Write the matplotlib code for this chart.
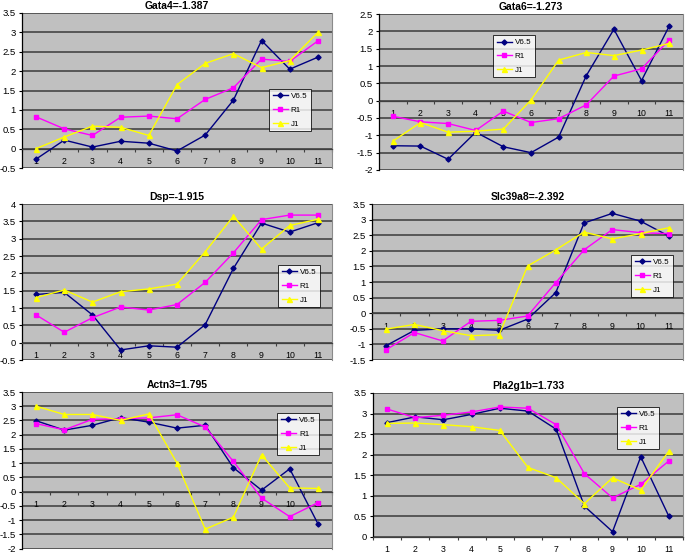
import matplotlib
matplotlib.use("Agg")
import matplotlib.pyplot as plt
import numpy as np

plt.rcParams["font.family"] = ["Liberation Sans", "DejaVu Sans"]

categories = list(range(1, 12))
series_names = ["V6.5", "R1", "J1"]

titles = ["Gata4=-1.387", "Gata6=-1.273", "Dsp=-1.915",
          "Slc39a8=-2.392", "Actn3=1.795", "Pla2g1b=1.733"]

gata4_v65 = [-0.27, 0.22, 0.04, 0.19, 0.14, -0.06, 0.35, 1.25, 2.79, 2.05, 2.36]
gata4_r1 = [0.82, 0.51, 0.34, 0.81, 0.84, 0.77, 1.27, 1.57, 2.31, 2.25, 2.78]
gata4_j1 = [0.0, 0.3, 0.58, 0.55, 0.34, 1.65, 2.2, 2.45, 2.09, 2.27, 3.0]

gata6_v65 = [-1.30, -1.31, -1.69, -0.91, -1.33, -1.50, -1.05, 0.72, 2.06, 0.58, 2.15]
gata6_r1 = [-0.45, -0.61, -0.66, -0.86, -0.30, -0.63, -0.52, -0.12, 0.71, 0.92, 1.75]
gata6_j1 = [-1.17, -0.63, -0.91, -0.88, -0.82, 0.02, 1.17, 1.39, 1.30, 1.46, 1.65]

dsp_v65 = [1.39, 1.45, 0.80, -0.21, -0.09, -0.13, 0.52, 2.14, 3.45, 3.19, 3.46]
dsp_r1 = [0.80, 0.30, 0.72, 1.03, 0.94, 1.10, 1.74, 2.59, 3.55, 3.68, 3.68]
dsp_j1 = [1.30, 1.52, 1.17, 1.47, 1.55, 1.69, 2.62, 3.65, 2.70, 3.38, 3.56]

slc_v65 = [-1.04, -0.55, -0.50, -0.50, -0.55, -0.19, 0.66, 2.89, 3.20, 2.95, 2.47]
slc_r1 = [-1.17, -0.62, -0.89, -0.26, -0.23, -0.09, 0.98, 2.03, 2.68, 2.58, 2.55]
slc_j1 = [-0.51, -0.36, -0.56, -0.72, -0.69, 1.51, 2.03, 2.60, 2.38, 2.55, 2.74]

actn3_v65 = [2.49, 2.16, 2.33, 2.60, 2.44, 2.23, 2.33, 0.84, 0.05, 0.80, -1.13]
actn3_r1 = [2.39, 2.17, 2.54, 2.56, 2.59, 2.70, 2.27, 1.06, -0.23, -0.88, -0.39]
actn3_j1 = [3.00, 2.71, 2.71, 2.50, 2.73, 1.00, -1.32, -0.90, 1.29, 0.13, 0.11]

pla_v65 = [2.78, 2.92, 2.85, 2.98, 3.13, 3.06, 2.62, 0.75, 0.13, 1.95, 0.50]
pla_r1 = [3.11, 2.90, 2.96, 3.04, 3.16, 3.13, 2.73, 1.54, 0.95, 1.28, 1.85]
pla_j1 = [2.76, 2.77, 2.73, 2.68, 2.59, 1.69, 1.44, 0.81, 1.44, 1.14, 2.09]

panel_data = [
    (gata4_v65, gata4_r1, gata4_j1),
    (gata6_v65, gata6_r1, gata6_j1),
    (dsp_v65, dsp_r1, dsp_j1),
    (slc_v65, slc_r1, slc_j1),
    (actn3_v65, actn3_r1, actn3_j1),
    (pla_v65, pla_r1, pla_j1),
]

y_ranges = [(-0.5, 3.5), (-2.0, 2.5), (-0.5, 4.0), (-1.5, 3.5), (-2.0, 3.5), (0.0, 3.5)]

W, H = 685, 553
# pixel boxes: x0, x1, ytop, ybottom
boxes = [
    (22, 332, 13, 168),
    (379, 683, 14, 170),
    (22, 332, 204, 360),
    (372, 683, 204, 360),
    (22, 332, 392, 548.5),
    (373, 683, 393, 537),
]
legend_pos = [(0.797, 0.51), (0.375, 0.865), (0.826, 0.609),
              (0.833, 0.673), (0.823, 0.866), (0.787, 0.903)]

colors = ["#000080", "#ff00ff", "#ffff00"]
markers = ["D", "s", "^"]
msizes = [2.6, 3.2, 3.6]

fig = plt.figure(figsize=(W / 100, H / 100), dpi=100)
fig.patch.set_facecolor("white")

for i in range(6):
    x0, x1, yt, yb = boxes[i]
    ax = fig.add_axes([x0 / W, 1 - yb / H, (x1 - x0) / W, (yb - yt) / H])
    ax.set_facecolor("#c0c0c0")
    ymin, ymax = y_ranges[i]
    ax.set_xlim(0.5, 11.5)
    ax.set_ylim(ymin, ymax)
    yt_vals = np.arange(ymin, ymax + 0.01, 0.5)
    ax.set_yticks(yt_vals)
    ax.set_yticklabels([("%g" % v) for v in yt_vals], fontsize=6.8)
    for v in yt_vals:
        ax.axhline(v, color="#3a3a3a", lw=1.1, zorder=1)
    # x axis at y = 0
    ax.spines["bottom"].set_position(("data", 0))
    ax.spines["bottom"].set_color("#404040")
    ax.spines["bottom"].set_linewidth(0.9)
    ax.spines["top"].set_visible(False)
    ax.spines["right"].set_color("#8a8a8a")
    ax.spines["right"].set_linewidth(0.8)
    ax.spines["left"].set_color("black")
    ax.spines["left"].set_linewidth(0.9)
    ax.set_xticks(np.arange(0.5, 11.6, 1.0))
    ax.set_xticklabels([])
    ax.tick_params(axis="x", which="major", direction="out", length=2.5, width=0.8, color="#404040")
    ax.set_xticks(categories, minor=True)
    ax.set_xticklabels([str(c) for c in categories], minor=True, fontsize=6.3)
    ax.tick_params(axis="x", which="minor", length=0, pad=6)
    ax.tick_params(axis="y", direction="out", length=2.5, width=0.8, pad=2)
    ax.set_title(titles[i], fontsize=7.5, fontweight="bold", pad=3)
    handles = []
    for s in range(3):
        h, = ax.plot(categories, panel_data[i][s], color=colors[s], marker=markers[s],
                     markersize=msizes[s], lw=1.0, zorder=3 + s, label=series_names[s])
        handles.append(h)
    leg = ax.legend(handles=handles, loc="upper left", bbox_to_anchor=legend_pos[i],
                    fontsize=5.8, frameon=True, fancybox=False, handlelength=1.9,
                    borderpad=0.45, labelspacing=0.75, handletextpad=0.35, borderaxespad=0)
    leg.get_frame().set_facecolor("white")
    leg.get_frame().set_edgecolor("black")
    leg.get_frame().set_linewidth(0.7)
    leg.set_zorder(10)

fig.savefig("out.png", dpi=100)
